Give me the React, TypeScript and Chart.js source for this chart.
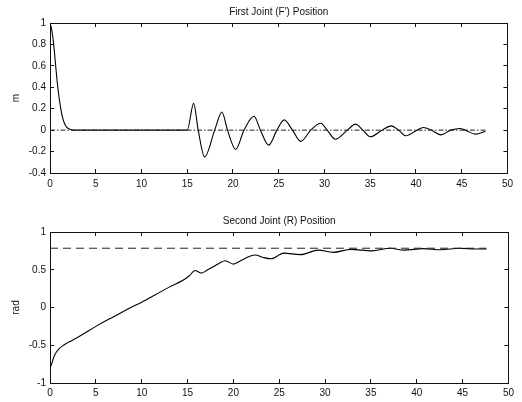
import React, { useEffect, useRef } from "react";
import { Chart, registerables } from "chart.js";

Chart.register(...registerables);

// ---------- data ----------
const X_TICKS = [0, 5, 10, 15, 20, 25, 30, 35, 40, 45, 50];
const TOP_Y_TICKS = [-0.4, -0.2, 0, 0.2, 0.4, 0.6, 0.8, 1];
const BOT_Y_TICKS = [-1, -0.5, 0, 0.5, 1];

const TOP_TITLE = "First Joint (F') Position";
const BOT_TITLE = "Second Joint (R) Position";
const TOP_YLABEL = "m";
const BOT_YLABEL = "rad";

const TOP_T = [
  0, 0.2, 0.4, 0.6, 0.8, 1.0, 1.2, 1.4, 1.6, 1.8, 2.0, 2.3, 2.6,
  15.0, 15.7, 16.2, 16.9, 18.0, 18.8, 19.4, 20.3, 21.2, 22.3, 23.0, 23.9,
  24.8, 25.6, 26.5, 27.4, 28.5, 29.6, 30.3, 31.2, 32.5, 33.4, 34.2, 35.0,
  36.3, 37.3, 38.1, 38.9, 40.1, 40.8, 41.7, 42.7, 43.8, 44.8, 45.4, 46.5, 47.6,
];
const TOP_POS = [
  1.0, 0.93, 0.8, 0.62, 0.44, 0.3, 0.19, 0.11, 0.06, 0.03, 0.015, 0.005, 0,
  0, 0.25, 0, -0.25, 0, 0.17, 0, -0.18, 0, 0.13, 0, -0.14,
  0, 0.096, 0, -0.105, 0, 0.065, 0, -0.085, 0, 0.056, 0, -0.062,
  0, 0.04, 0, -0.053, 0, 0.025, 0, -0.044, 0, 0.016, 0, -0.037, -0.01,
];
const TOP_REF_T = [0, 47.6];
const TOP_REF = [0, 0];

const BOT_T = [
  0, 0.2, 0.4, 0.7, 1.0, 1.4, 1.8, 2.5, 3.5, 5.0, 6.5, 7.0, 8.5, 10.0, 11.5,
  13.0, 14.5, 15.2, 15.8, 16.5, 17.2, 17.8, 18.5, 19.1, 20.0, 20.8, 21.8,
  22.4, 23.2, 24.1, 25.5, 27.3, 29.3, 30.9, 32.8, 35.1, 37.1, 38.6, 40.7,
  42.6, 44.7, 46.4, 47.6,
];
const BOT_POS = [
  -0.8, -0.74, -0.66, -0.59, -0.545, -0.505, -0.475, -0.43, -0.36, -0.25, -0.15,
  -0.12, -0.02, 0.07, 0.17, 0.27, 0.36, 0.42, 0.49, 0.455, 0.5, 0.54, 0.59,
  0.62, 0.575, 0.62, 0.68, 0.695, 0.665, 0.645, 0.72, 0.7, 0.76, 0.73, 0.77,
  0.75, 0.785, 0.76, 0.78, 0.765, 0.785, 0.775, 0.775,
];
const BOT_REF_T = [0, 47.6];
const BOT_REF = [0.785, 0.785];

// ---------- helpers ----------
const FONT = "'Liberation Sans', Arial, Helvetica, sans-serif";
const W = 522;
const INK = "#111111";
const TICK_IN = -4;

const pts = (xs: number[], ys: number[]) => xs.map((x, i) => ({ x, y: ys[i] }));
const fmt = (v: number) => {
  const r = Math.round(v * 100) / 100;
  return r < 0 ? "-" + String(-r) : String(r);
};

const gridInward = {
  display: true,
  drawOnChartArea: false,
  drawTicks: true,
  tickLength: TICK_IN,
  color: INK,
  lineWidth: 1,
};
const borderOn = { display: true, color: INK, width: 1 };

function makeConfig(
  xs: number[],
  ys: number[],
  refX: number[],
  refY: number[],
  yTicks: number[],
  yLabel: string,
  title: string,
  refDash: number[],
  titlePad: { top: number; bottom: number },
  xAxisH: number,
  xPad: number
): any {
  const setX = (s: any) => {
    s.ticks = X_TICKS.map((v) => ({ value: v }));
  };
  const setY = (s: any) => {
    s.ticks = yTicks.map((v) => ({ value: v }));
  };
  const yMin = yTicks[0];
  const yMax = yTicks[yTicks.length - 1];
  return {
    type: "line",
    data: {
      datasets: [
        {
          data: pts(refX, refY),
          borderColor: "#222",
          borderWidth: 1,
          borderDash: refDash,
          pointRadius: 0,
          tension: 0,
        },
        {
          data: pts(xs, ys),
          borderColor: "#000",
          borderWidth: 1.1,
          pointRadius: 0,
          cubicInterpolationMode: "monotone",
        },
      ],
    },
    options: {
      animation: false,
      responsive: false,
      maintainAspectRatio: false,
      layout: { padding: { top: 0, right: 11, left: 0, bottom: 0 } },
      plugins: {
        legend: { display: false },
        tooltip: { enabled: false },
        title: {
          display: true,
          text: title,
          fullSize: false,
          color: INK,
          font: { family: FONT, size: 10, weight: "normal" },
          padding: titlePad,
        },
      },
      scales: {
        x: {
          type: "linear",
          position: "bottom",
          min: 0,
          max: 50,
          afterBuildTicks: setX,
          afterFit: (s: any) => {
            s.height = xAxisH;
          },
          grid: gridInward,
          border: borderOn,
          ticks: {
            color: INK,
            padding: xPad,
            maxRotation: 0,
            autoSkip: false,
            font: { family: FONT, size: 10 },
            callback: (v: number) => fmt(v),
          },
        },
        x2: {
          type: "linear",
          axis: "x",
          position: "top",
          min: 0,
          max: 50,
          afterBuildTicks: setX,
          afterFit: (s: any) => {
            s.height = 0;
          },
          grid: gridInward,
          border: borderOn,
          ticks: { display: false },
        },
        y: {
          type: "linear",
          position: "left",
          min: yMin,
          max: yMax,
          afterBuildTicks: setY,
          afterFit: (s: any) => {
            s.width = 50;
          },
          grid: gridInward,
          border: borderOn,
          title: {
            display: true,
            text: yLabel,
            color: INK,
            font: { family: FONT, size: 10 },
            padding: { top: 10, bottom: 0 },
          },
          ticks: {
            color: INK,
            padding: 8,
            autoSkip: false,
            font: { family: FONT, size: 10 },
            callback: (v: number) => fmt(v),
          },
        },
        y2: {
          type: "linear",
          axis: "y",
          position: "right",
          min: yMin,
          max: yMax,
          afterBuildTicks: setY,
          afterFit: (s: any) => {
            s.width = 0;
          },
          grid: gridInward,
          border: borderOn,
          ticks: { display: false },
        },
      },
    },
  };
}

export default function App() {
  const topRef = useRef<HTMLCanvasElement>(null);
  const botRef = useRef<HTMLCanvasElement>(null);

  useEffect(() => {
    const c1 = new Chart(
      topRef.current as HTMLCanvasElement,
      makeConfig(TOP_T, TOP_POS, TOP_REF_T, TOP_REF, TOP_Y_TICKS, TOP_YLABEL, TOP_TITLE, [5, 2, 1.5, 2], { top: 6, bottom: 5 }, 27, 9)
    );
    const c2 = new Chart(
      botRef.current as HTMLCanvasElement,
      makeConfig(BOT_T, BOT_POS, BOT_REF_T, BOT_REF, BOT_Y_TICKS, BOT_YLABEL, BOT_TITLE, [8, 5], { top: 15, bottom: 5 }, 19, 8)
    );
    return () => {
      c1.destroy();
      c2.destroy();
    };
  }, []);

  return (
    <div style={{ position: "fixed", left: 0, top: 0, width: W, height: 402, background: "#fff" }}>
      <canvas
        ref={topRef}
        width={W}
        height={200}
        style={{ position: "absolute", left: 0, top: 0, width: W, height: 200 }}
      />
      <canvas
        ref={botRef}
        width={W}
        height={202}
        style={{ position: "absolute", left: 0, top: 200, width: W, height: 202 }}
      />
    </div>
  );
}
